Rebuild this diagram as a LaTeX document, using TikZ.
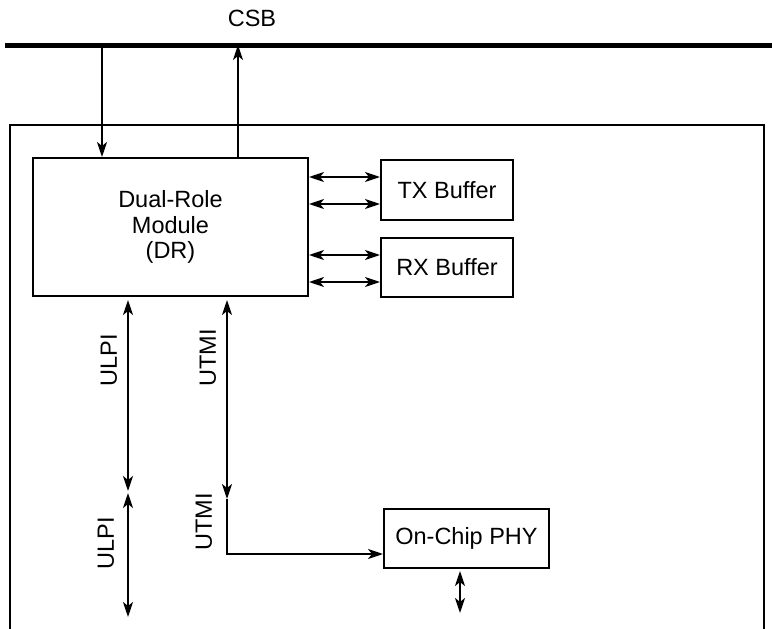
\documentclass[tikz,border=0pt]{standalone}
\usepackage{fontspec}
\setmainfont{Liberation Sans}
\usetikzlibrary{arrows.meta,positioning,calc}
\tikzset{
  blockbox/.style={draw, line width=2pt, align=center, inner sep=0pt},
  buslabel/.style={anchor=base},
  sidelabel/.style={rotate=90},
}

\begin{document}
\begin{tikzpicture}[x=1pt, y=-1pt, >={Stealth[length=15pt, width=10pt, inset=4pt]},
    line width=1.9pt, every node/.style={font=\fontsize{23.5}{25.5}\selectfont}]
      \useasboundingbox (0,0) rectangle (772,629);
      % system bus
      \coordinate (busL) at (5,45);
      \coordinate (busR) at (772,45);
      \draw[line width=5pt] (busL) -- (busR);
      \node[buslabel] (csb) at (252,27) {CSB};
      % enclosing block, open at the bottom
      \draw (10,629) |- (764,125) -- (764,629);

      \node[blockbox, minimum width=275pt, minimum height=138pt] (dr) at (170.5,227)
        {Dual-Role\\Module\\(DR)};
      \node[blockbox, minimum width=132pt, minimum height=60pt] (tx) at (447,190) {TX Buffer};
      \node[blockbox, minimum width=132pt, minimum height=59pt] (rx) at (447,267.5) {RX Buffer};
      \node[blockbox, minimum width=165pt, minimum height=59pt] (phy) at (466.5,538.5) {On-Chip PHY};

      \coordinate (busin) at (102,45);
      \coordinate (busout) at (238,45);
      \draw[->] (busin) -- (busin |- dr.north);
      \draw[->] (busout |- dr.north) -- (busout);

      \foreach \y in {177,204} {
        \draw[<->] (dr.east |- 0,\y) -- (tx.west |- 0,\y);
      }
      \foreach \y in {255,282} {
        \draw[<->] (dr.east |- 0,\y) -- (rx.west |- 0,\y);
      }

      % ULPI
      \coordinate (ulpiA) at (128,300);
      \coordinate (ulpiB) at (128,491);
      \coordinate (ulpiC) at (128,493);
      \coordinate (ulpiD) at (128,617);
      \draw[<->] (ulpiA) -- (ulpiB);
      \draw[<->] (ulpiC) -- (ulpiD);
      \node[sidelabel] (ulpi1) at (109,360) {ULPI};
      \node[sidelabel] (ulpi2) at (106,543) {ULPI};

      % UTMI
      \coordinate (utmiA) at (227,300);
      \coordinate (utmiB) at (227,499);
      \coordinate (utmiC) at (227,554);
      \draw[<->] (utmiA) -- (utmiB);
      \draw[->] (utmiB) -- (utmiC) -- (phy.west |- utmiC);
      \node[sidelabel] (utmi1) at (208,358) {UTMI};
      \node[sidelabel] (utmi2) at (204,522) {UTMI};

      \coordinate (phyout) at (460,613);
      \draw[<->] ([yshift=-2pt]phy.south -| phyout) -- (phyout);
    \end{tikzpicture}
\end{document}
